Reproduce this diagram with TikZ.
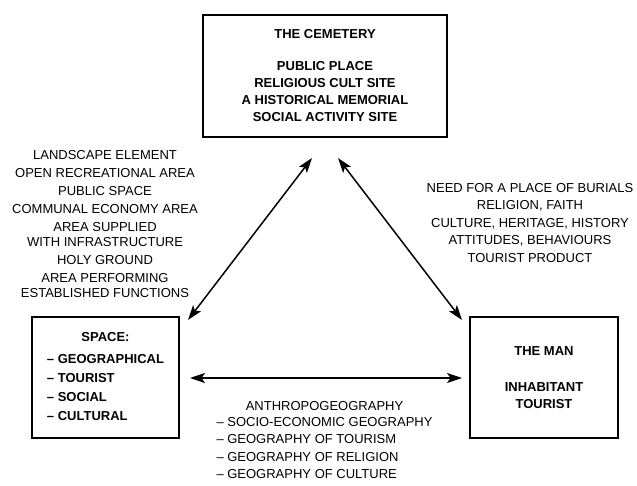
\documentclass[tikz,border=0pt]{standalone}
\usepackage{fontspec}
\setmainfont{Liberation Sans}
\usetikzlibrary{arrows.meta}
\begin{document}
\begin{tikzpicture}[x=1pt,y=-1pt,
  box/.style={draw, line width=2.5pt, inner sep=0pt, align=center,
    font=\bfseries\fontsize{13}{17}\selectfont},
  txt/.style={inner sep=0pt, align=center, font=\fontsize{13}{15.5}\selectfont},
  link/.style={{Stealth[length=15pt,width=10pt,inset=3.5pt]}-{Stealth[length=15pt,width=10pt,inset=3.5pt]}, line width=1.5pt}]
\useasboundingbox (0,0) rectangle (637,486);
\node[box, minimum width=244pt, minimum height=122pt] (cem) at (325,76)
  {THE CEMETERY\\[15pt]PUBLIC PLACE\\RELIGIOUS CULT SITE\\A HISTORICAL MEMORIAL\\SOCIAL ACTIVITY SITE};
\node[box, minimum width=147pt, minimum height=121pt] (space) at (105.5,377.5)
  {\fontsize{13}{19}\selectfont\begin{tabular}{@{}l@{}}\multicolumn{1}{@{}c@{}}{SPACE:}\\[3pt]
   -- GEOGRAPHICAL\\ -- TOURIST\\ -- SOCIAL\\ -- CULTURAL\end{tabular}};
\node[box, minimum width=148pt, minimum height=121pt] (man) at (544,377.5)
  {THE MAN\\[19pt]INHABITANT\\TOURIST};
\node[txt] (ltxt) at (105,224)
  {LANDSCAPE ELEMENT\\[2.5pt]OPEN RECREATIONAL AREA\\[2.5pt]PUBLIC SPACE\\[2.5pt]COMMUNAL ECONOMY AREA\\[2.5pt]AREA SUPPLIED\\WITH INFRASTRUCTURE\\[2.5pt]HOLY GROUND\\[2pt]AREA PERFORMING\\ESTABLISHED FUNCTIONS};
\node[txt, font=\fontsize{13}{17.5}\selectfont] (rtxt) at (530,223)
  {NEED FOR A PLACE OF BURIALS\\RELIGION, FAITH\\CULTURE, HERITAGE, HISTORY\\ATTITUDES, BEHAVIOURS\\TOURIST PRODUCT};
\node[txt, font=\fontsize{13}{17.5}\selectfont] (btxt) at (324.5,441)
  {\begin{tabular}{@{}l@{}}\multicolumn{1}{@{}c@{}}{ANTHROPOGEOGRAPHY}\\[-1.5pt]
   -- SOCIO-ECONOMIC GEOGRAPHY\\ -- GEOGRAPHY OF TOURISM\\ -- GEOGRAPHY OF RELIGION\\ -- GEOGRAPHY OF CULTURE\end{tabular}};
\coordinate (a1) at (188,320);
\coordinate (a2) at (312,158);
\coordinate (b1) at (338,158);
\coordinate (b2) at (462,320);
\coordinate (c1) at (190,378);
\coordinate (c2) at (462,378);
\draw[link] (a1) -- (a2);
\draw[link] (b1) -- (b2);
\draw[link] (c1) -- (c2);
\end{tikzpicture}
\end{document}
